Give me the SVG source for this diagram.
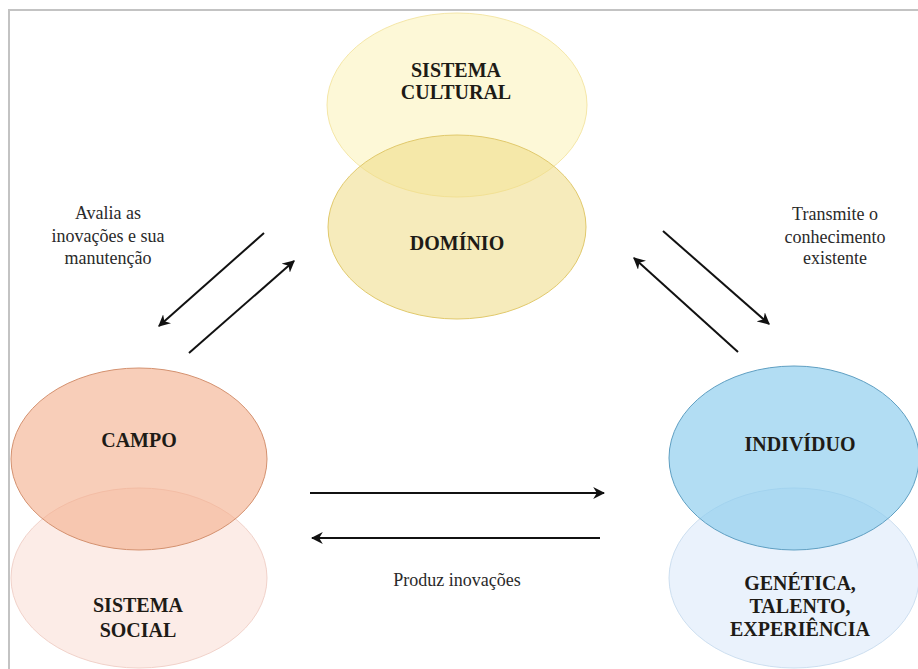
<svg xmlns="http://www.w3.org/2000/svg" width="918" height="669" viewBox="0 0 918 669">
  <style>
    .frame { stroke: #c3c3c3; stroke-width: 2; fill: none; }
    .node-label { font-weight: bold; font-size: 20px; fill: #1e1b16; text-anchor: middle; }
    .edge-label { font-size: 18px; fill: #2a2a2a; text-anchor: middle; }
    .arrow { stroke: #111; stroke-width: 2; fill: none; marker-end: url(#head); }
  </style>
  <defs>
    <marker id="head" viewBox="0 0 10 10" refX="9" refY="5" markerWidth="6" markerHeight="6" orient="auto" markerUnits="strokeWidth">
      <path d="M0,0 L10,5 L0,10 L3,5 Z" fill="#111"/>
    </marker>
  </defs>

  <rect width="918" height="669" fill="#ffffff"/>
  <!-- page frame: top and left edges -->
  <path class="frame" d="M9,669 L9,10 L918,10"/>

  <g font-family="'Liberation Serif', 'Times New Roman', 'DejaVu Serif', serif">
    <!-- top pair -->
    <g id="sistema-cultural">
      <ellipse cx="457" cy="105" rx="130" ry="92" fill="#fbeea0" fill-opacity="0.42" stroke="#f5e7a8" stroke-width="1"/>
      <text class="node-label" x="456" y="77">SISTEMA</text>
      <text class="node-label" x="456" y="99">CULTURAL</text>
    </g>
    <g id="dominio">
      <ellipse cx="457" cy="227" rx="129" ry="92" fill="#efda84" fill-opacity="0.55" stroke="#e1c96c" stroke-width="1"/>
      <text class="node-label" x="457" y="250">DOMÍNIO</text>
    </g>

    <!-- left pair -->
    <g id="sistema-social">
      <ellipse cx="139" cy="578" rx="128" ry="90" fill="#fbe4dd" fill-opacity="0.7" stroke="#f1d2ca" stroke-width="1"/>
      <text class="node-label" x="138" y="612">SISTEMA</text>
      <text class="node-label" x="138" y="637">SOCIAL</text>
    </g>
    <g id="campo">
      <ellipse cx="139" cy="459" rx="128" ry="91" fill="#f3b08e" fill-opacity="0.62" stroke="#d4916f" stroke-width="1"/>
      <text class="node-label" x="139" y="447">CAMPO</text>
    </g>

    <!-- right pair -->
    <g id="genetica">
      <ellipse cx="794" cy="578" rx="125" ry="90" fill="#e3eefb" fill-opacity="0.75" stroke="#cddff0" stroke-width="1"/>
      <text class="node-label" x="800" y="590">GENÉTICA,</text>
      <text class="node-label" x="800" y="613">TALENTO,</text>
      <text class="node-label" x="800" y="636">EXPERIÊNCIA</text>
    </g>
    <g id="individuo">
      <ellipse cx="794" cy="458" rx="125" ry="92" fill="#8ecdee" fill-opacity="0.68" stroke="#5f9fc2" stroke-width="1"/>
      <text class="node-label" x="800" y="451">INDIVÍDUO</text>
    </g>

    <!-- connectors -->
    <g id="connectors">
      <line class="arrow" x1="264" y1="233" x2="159" y2="326"/>
      <line class="arrow" x1="189" y1="353" x2="294" y2="261"/>
      <line class="arrow" x1="663" y1="231" x2="769" y2="324"/>
      <line class="arrow" x1="738" y1="352" x2="634" y2="258"/>
      <line class="arrow" x1="310" y1="493" x2="604" y2="493"/>
      <line class="arrow" x1="600" y1="538" x2="312" y2="538"/>
    </g>

    <!-- connector labels -->
    <g id="labels">
      <text class="edge-label" x="108" y="219">Avalia as</text>
      <text class="edge-label" x="108" y="242">inovações e sua</text>
      <text class="edge-label" x="108" y="264">manutenção</text>
      <text class="edge-label" x="835" y="220">Transmite o</text>
      <text class="edge-label" x="835" y="243">conhecimento</text>
      <text class="edge-label" x="835" y="264">existente</text>
      <text class="edge-label" x="457" y="586">Produz inovações</text>
    </g>
  </g>
</svg>
